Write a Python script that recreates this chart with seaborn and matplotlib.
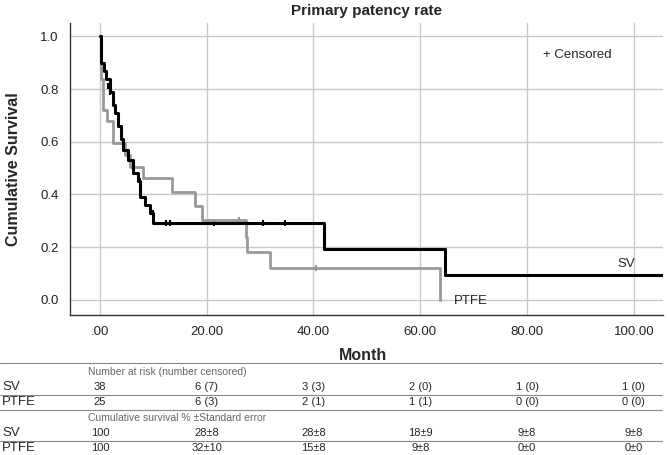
import numpy as np
import pandas as pd
import matplotlib
matplotlib.use('Agg')
import matplotlib.pyplot as plt
import seaborn as sns
from matplotlib.lines import Line2D

# step curves (time in months, survival after each step)
sv_time = [0, 0.2, 0.7, 1.2, 1.9, 2.4, 2.9, 3.4, 3.9, 4.4, 5.2, 6.2, 7.1, 7.5, 8.4, 9.4, 10.0, 42.0, 64.6, 105.4]
sv_surv = [1.0, 0.90, 0.87, 0.84, 0.79, 0.74, 0.71, 0.66, 0.61, 0.57, 0.53, 0.48, 0.45, 0.39, 0.36, 0.33, 0.292, 0.194, 0.095, 0.095]
ptfe_time = [0, 0.2, 0.5, 1.3, 2.5, 4.7, 5.7, 8.1, 13.5, 17.8, 19.2, 27.3, 27.6, 31.8, 63.7]
ptfe_surv = [1.0, 0.84, 0.72, 0.68, 0.595, 0.55, 0.505, 0.463, 0.41, 0.357, 0.304, 0.24, 0.183, 0.12, 0.0]

# censored observations
sv_cens_time = [1.5, 1.9, 7.6, 10.0, 12.4, 13.2, 21.4, 30.6, 34.6]
sv_cens_surv = [0.81, 0.79, 0.45, 0.33, 0.292, 0.292, 0.292, 0.292, 0.292]
ptfe_cens_time = [5.3, 26.1, 40.5]
ptfe_cens_surv = [0.55, 0.304, 0.12]

# table below the chart
table_cols = [0, 20, 40, 60, 80, 100]
risk_sv = ['38', '6 (7)', '3 (3)', '2 (0)', '1 (0)', '1 (0)']
risk_ptfe = ['25', '6 (3)', '2 (1)', '1 (1)', '0 (0)', '0 (0)']
cum_sv = ['100', '28±8', '28±8', '18±9', '9±8', '9±8']
cum_ptfe = ['100', '32±10', '15±8', '9±8', '0±0', '0±0']


def main():
    sns.set_style('white')
    plt.rcParams['font.family'] = ['Liberation Sans', 'DejaVu Sans']

    curves = pd.concat([
        pd.DataFrame({'time': sv_time, 'surv': sv_surv, 'group': 'SV'}),
        pd.DataFrame({'time': ptfe_time, 'surv': ptfe_surv, 'group': 'PTFE'}),
    ])
    cens = pd.concat([
        pd.DataFrame({'time': sv_cens_time, 'surv': sv_cens_surv, 'group': 'SV'}),
        pd.DataFrame({'time': ptfe_cens_time, 'surv': ptfe_cens_surv, 'group': 'PTFE'}),
    ])
    palette = {'SV': '#000000', 'PTFE': '#999999'}

    fig = plt.figure(figsize=(6.69, 4.55), dpi=100)
    ax = fig.add_axes([0.1046, 0.308, 0.886, 0.6415])

    # draw PTFE first so SV sits on top
    for grp, lw in [('PTFE', 2.0), ('SV', 2.2)]:
        sub = curves[curves['group'] == grp]
        sns.lineplot(data=sub, x='time', y='surv', color=palette[grp],
                     drawstyle='steps-post', linewidth=lw, ax=ax,
                     estimator=None, sort=False, legend=False)
        csub = cens[cens['group'] == grp]
        sns.scatterplot(data=csub, x='time', y='surv', color=palette[grp],
                        marker='|', s=25, linewidth=1.5, ax=ax, legend=False)

    ax.set_xlim(-5.6, 105.4)
    ax.set_ylim(-0.057, 1.051)
    ax.set_xticks(table_cols)
    ax.set_xticklabels(['.00', '20.00', '40.00', '60.00', '80.00', '100.00'])
    ax.set_yticks([0, 0.2, 0.4, 0.6, 0.8, 1.0])
    ax.set_yticklabels(['0.0', '0.2', '0.4', '0.6', '0.8', '1.0'])
    ax.grid(True, color='#c8c8c8', linewidth=1.0)
    ax.set_axisbelow(True)
    ax.tick_params(axis='both', labelsize=9.5, length=0, pad=8, colors='#222222')
    for side in ['top', 'right']:
        ax.spines[side].set_visible(False)
    for side in ['left', 'bottom']:
        ax.spines[side].set_color('#333333')
        ax.spines[side].set_linewidth(1.0)

    ax.set_xlabel('')
    ax.set_ylabel('Cumulative Survival', fontsize=11.5, fontweight='bold', labelpad=14)
    ax.set_title('Primary patency rate', fontsize=11, fontweight='bold', pad=6)

    ax.text(83, 0.93, '+ Censored', fontsize=9.5, va='center')
    ax.text(97, 0.135, 'SV', fontsize=9.5, va='center')
    ax.text(66.2, -0.005, 'PTFE', fontsize=9.5, va='center')

    # "Month" and the table below, in figure pixels
    W, H = 669.0, 455.0

    def fy(py):
        return 1 - py / H

    def fx(px):
        return px / W

    fig.text(fx(363), fy(355), 'Month', fontsize=11.5, fontweight='bold', ha='center', va='center')
    narrow = ['Liberation Sans Narrow', 'Liberation Sans', 'DejaVu Sans']
    for py in [363, 395, 410, 441]:
        fig.add_artist(Line2D([0, 0.99], [fy(py), fy(py)], color='#888888', linewidth=0.8))

    fig.text(fx(88), fy(372), 'Number at risk (number censored)', fontsize=7.5,
             color='#666666', va='center', family=narrow)
    fig.text(fx(88), fy(418), 'Cumulative survival % ±Standard error', fontsize=7.5,
             color='#666666', va='center', family=narrow)

    rows = [('SV', risk_sv, 387), ('PTFE', risk_ptfe, 402),
            ('SV', cum_sv, 433), ('PTFE', cum_ptfe, 448)]
    for label, vals, py in rows:
        fig.text(fx(2), fy(py), label, fontsize=9.5, va='center', family=narrow)
        for col, v in zip(table_cols, vals):
            px = ax.transData.transform((col, 0))[0]
            fig.text(px / fig.bbox.width, fy(py), v, fontsize=8, ha='center',
                     va='center', family=narrow)

    fig.savefig('out.png', dpi=100)
    plt.close(fig)


if __name__ == '__main__':
    main()
